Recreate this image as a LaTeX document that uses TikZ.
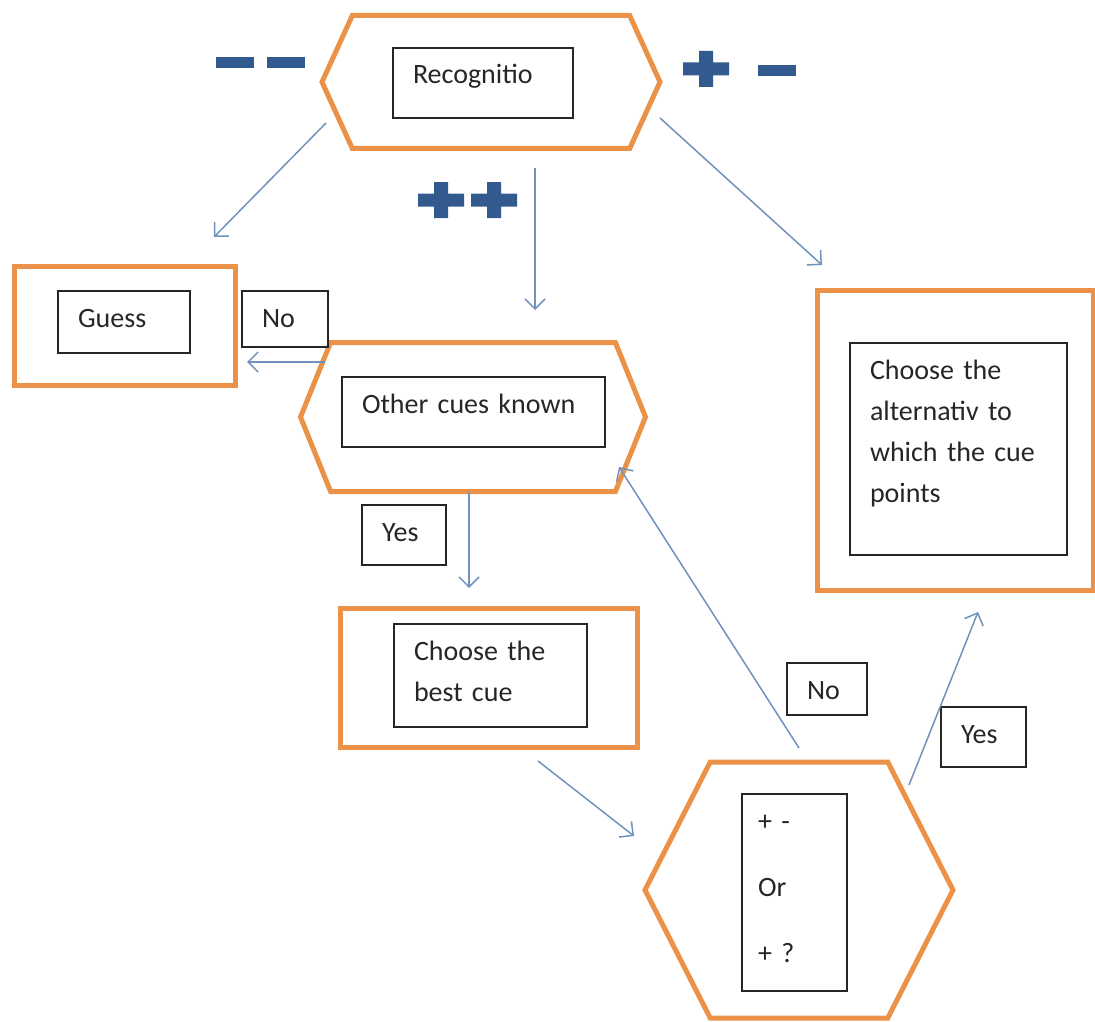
\documentclass[tikz,border=0pt]{standalone}
\usepackage{fontspec}
\setmainfont{Carlito}
\usetikzlibrary{shapes.symbols,arrows.meta}
\definecolor{orng}{RGB}{236,146,72}
\definecolor{arrblue}{RGB}{112,146,188}
\definecolor{signblue}{RGB}{50,90,143}
\tikzset{
  ob/.style={draw=orng, line width=5pt, inner sep=0pt},
  hexa/.style={ob, signal, signal to=west and east, signal pointer angle=#1},
  txtbox/.style={draw=black!85, line width=2pt, anchor=north west, align=left,
    inner xsep=20pt, inner ysep=0pt, text height=36pt, text=black!85,
    font=\fontsize{28}{41}\selectfont},
  arr/.style={->, draw=arrblue, line width=1.5pt},
  minussign/.pic={\fill[signblue] (-19,-5.5) rectangle (19,5.5);},
  plussign/.pic={\fill[signblue] (-23,-6.5) rectangle (23,6.5) (-7,-18) rectangle (7,18);}
}

\begin{document}
\begin{tikzpicture}[x=1pt,y=-1pt,>={Straight Barb[length=10pt,width=20pt]}]
  \useasboundingbox (0,0) rectangle (1095,1022);

  \node[hexa=131, minimum width=338pt, minimum height=133pt] (1) at (491,82) {};
  \node[ob, minimum width=221pt, minimum height=119pt] (2) at (125,326) {};
  \node[hexa=136, minimum width=345pt, minimum height=149pt] (3) at (473,417) {};
  \node[ob, minimum width=297pt, minimum height=139pt] (4) at (489,678) {};
  \node[hexa=126, minimum width=308pt, minimum height=256pt] (5) at (799,890) {};
  \node[ob, minimum width=276pt, minimum height=300pt] (6) at (955,440) {};

  \node[txtbox, text width=140pt, text depth=34pt] (1t) at (392,47) {Recognitio};
  \node[txtbox, text width=92pt, text depth=26pt] (2t) at (57,290) {Guess};
  \node[txtbox, text width=223pt, text depth=34pt] (3t) at (341,376) {Other cues known};
  \node[txtbox, text width=153pt, text depth=67pt] (4t) at (393,623) {Choose the\\best cue};
  \node[txtbox, inner xsep=16pt, text width=73pt, text depth=161pt] (5t) at (741,793) {+ -\\[25pt]Or\\[25pt]+ ?};
  \node[txtbox, text width=177pt, text depth=176pt] (6t) at (849,342) {Choose the\\alternativ to\\which the cue\\points};

  \node[txtbox, text width=46pt, text depth=20pt] (n1) at (241,290) {No};
  \node[txtbox, text width=44pt, text depth=24pt] (y1) at (361,504) {Yes};
  \node[txtbox, text width=40pt, text depth=16pt] (n2) at (786,662) {No};
  \node[txtbox, text width=45pt, text depth=24pt] (y2) at (940,706) {Yes};

  \draw[arr] ([shift={(-165,41)}]1.center) -- ([shift={(89,-89)}]2.center);
  \draw[arr] ([shift={(44,86)}]1.center) -- ([shift={(62,-107)}]3.center);
  \draw[arr] ([shift={(169,36)}]1.center) -- ([shift={(-133,-175)}]6.center);
  \draw[arr] ([shift={(-148,-55)}]3.center) -- ([shift={(122,36)}]2.center);
  \draw[arr] ([shift={(-4,75)}]3.center) -- ([shift={(-20,-90)}]4.center);
  \draw[arr] ([shift={(49,83)}]4.center) -- ([shift={(-165,-54)}]5.center);
  \draw[arr] ([shift={(0,-142)}]5.center) -- ([shift={(146,50)}]3.center);
  \draw[arr] ([shift={(110,-105)}]5.center) -- ([shift={(23,172)}]6.center);

  % signs
  \pic at (235,63) {minussign};
  \pic at (286,63) {minussign};
  \pic at (777,71) {minussign};
  \foreach \p in {(441,200),(494,200),(706,69)}
    \pic at \p {plussign};
\end{tikzpicture}
\end{document}
